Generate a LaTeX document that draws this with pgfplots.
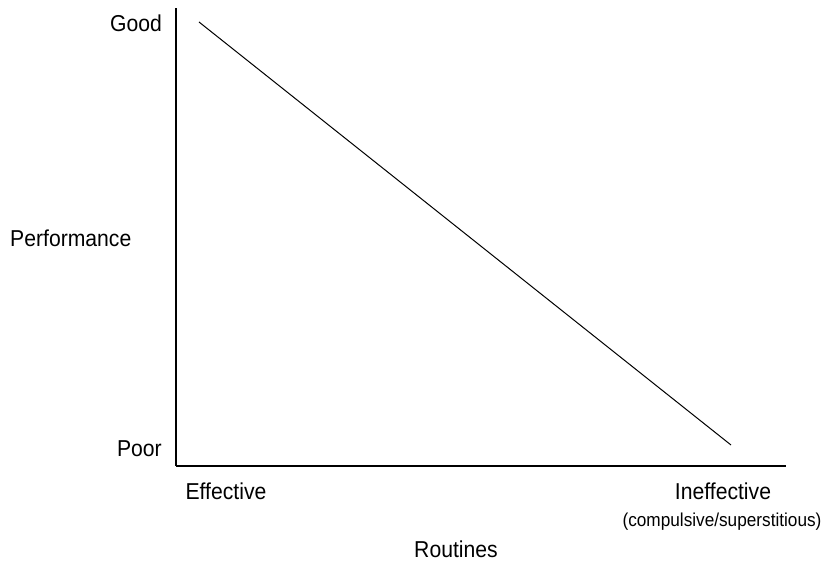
\documentclass[border=0pt]{standalone}
\usepackage{pgfplots}
\pgfplotsset{compat=1.18}
\usepackage{fontspec}
\setmainfont{Liberation Sans}[FakeStretch=0.92]
\begin{document}
\begin{tikzpicture}
\useasboundingbox (0,0) rectangle (823bp,562bp);
\begin{axis}[
  at={(176bp,96bp)}, anchor=south west,
  scale only axis, width=610bp, height=458bp,
  xmin=0, xmax=610, ymin=0, ymax=458,
  axis x line*=bottom, axis y line*=left,
  axis line style={line width=1.3bp, black, -},
  xtick=\empty, ytick=\empty,
  clip=false,
]
\addplot[black, line width=1bp] coordinates {(23,444) (555,21)};
\end{axis}
\fontsize{23bp}{27bp}\selectfont
\node[anchor=base east, inner sep=0] at (162bp,530bp) {Good};
\node[anchor=base east, inner sep=0] at (162bp,105bp) {Poor};
\node[anchor=base west, inner sep=0] at (10bp,315bp) {Performance};
\node[anchor=base, inner sep=0] at (226bp,62bp) {Effective};
\node[anchor=base, inner sep=0] at (723bp,62bp) {Ineffective};
\node[anchor=base, inner sep=0] at (456bp,5bp) {Routines};
\node[anchor=base, inner sep=0] at (722bp,36bp) {\fontsize{18.7bp}{22bp}\selectfont(compulsive/superstitious)};
\end{tikzpicture}
\end{document}
